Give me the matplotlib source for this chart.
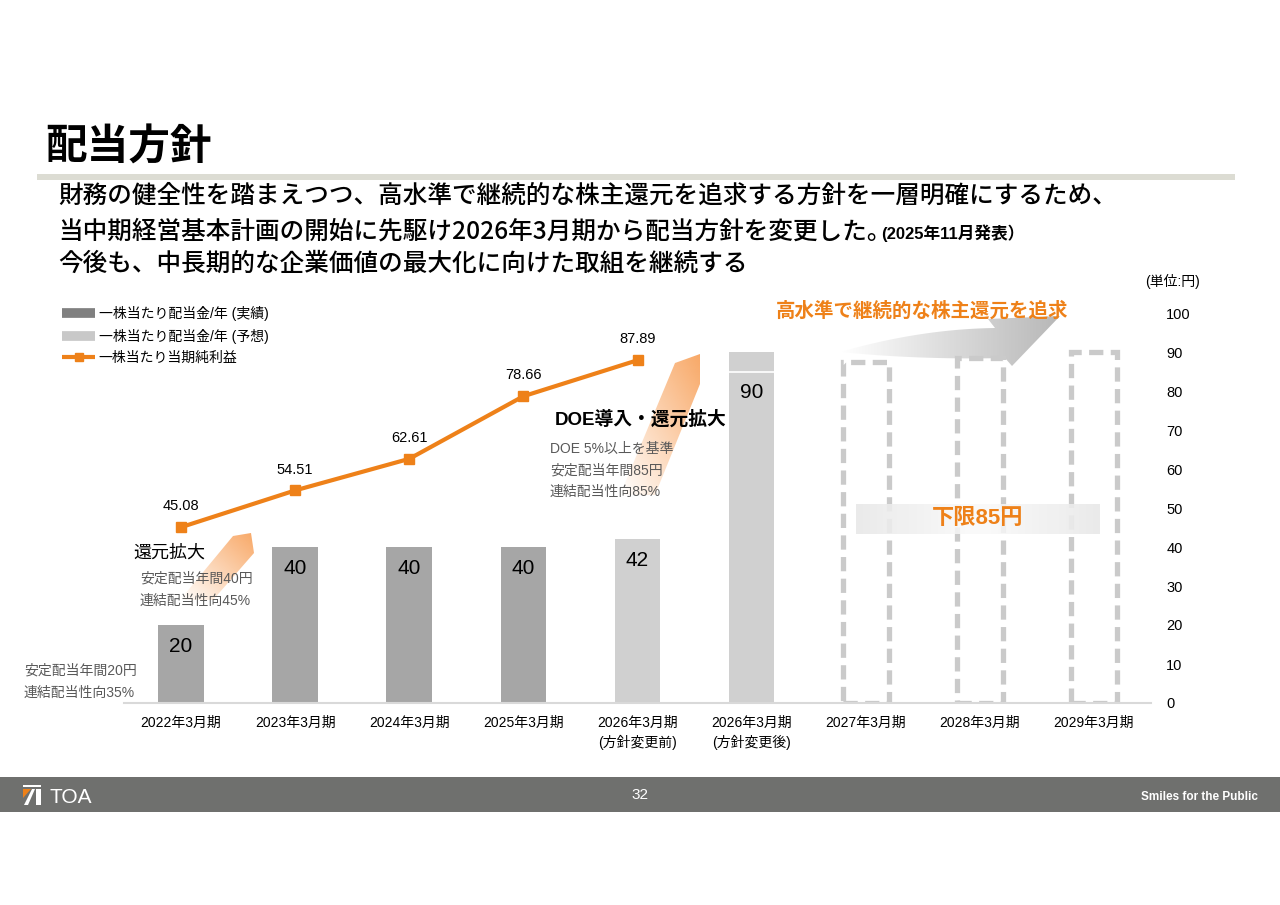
import numpy as np
import matplotlib
matplotlib.use('Agg')
import matplotlib.pyplot as plt
from matplotlib.patches import Polygon, Rectangle
from matplotlib.lines import Line2D
from matplotlib.colors import to_rgba

plt.rcParams['font.family'] = ['Liberation Sans', 'Noto Sans CJK JP']

W, H = 1280, 905

# --- data ---
categories = ['2022年3月期', '2023年3月期', '2024年3月期', '2025年3月期',
              '2026年3月期\n(方針変更前)', '2026年3月期\n(方針変更後)',
              '2027年3月期', '2028年3月期', '2029年3月期']
actual_idx = [0, 1, 2, 3]
actual_dps = [20, 40, 40, 40]
forecast_idx = [4, 5]
forecast_dps = [42, 90]
floor_dps = 85
eps_idx = [0, 1, 2, 3, 4]
eps = [45.08, 54.51, 62.61, 78.66, 87.89]
future_idx = [6, 7, 8]
future_outline = [87.5, 88.5, 90]
yticks = list(range(0, 101, 10))

legend_labels = ['一株当たり配当金/年 (実績)', '一株当たり配当金/年 (予想)', '一株当たり当期純利益']

ORANGE = '#EE8119'
DARK_BAR = '#a6a6a6'
LIGHT_BAR = '#d0d0d0'
NOTE_GRAY = '#595959'


def fx(x):
    return x / W


def fy(y):
    return 1 - y / H


def ftext(x, y, s, **kw):
    kw.setdefault('va', 'center')
    kw.setdefault('ha', 'left')
    return fig.text(fx(x), fy(y), s, **kw)


def qbez(p0, c, p1, n=30):
    t = np.linspace(0, 1, n)[:, None]
    p0, c, p1 = np.array(p0), np.array(c), np.array(p1)
    return (1 - t) ** 2 * p0 + 2 * (1 - t) * t * c + t ** 2 * p1


def gradient_fill(axo, verts, c_start, c_end, mode='x', zorder=1):
    verts = np.asarray(verts, float)
    poly = Polygon(verts, closed=True, facecolor='none', edgecolor='none')
    axo.add_patch(poly)
    x0, y0 = verts.min(axis=0)
    x1, y1 = verts.max(axis=0)
    u = np.linspace(0, 1, 200)
    U, V = np.meshgrid(u, u)
    if mode == 'diag':
        t = (U + (1 - V)) / 2
    elif mode == 'center':
        t = np.abs(2 * U - 1)
    else:
        t = U
    c0 = np.array(to_rgba(c_start))
    c1 = np.array(to_rgba(c_end))
    img = c0 + (c1 - c0) * t[..., None]
    im = axo.imshow(img, extent=(x0, x1, y1, y0), aspect='auto',
                    interpolation='bilinear', zorder=zorder)
    im.set_clip_path(poly)


fig = plt.figure(figsize=(12.8, 9.05), dpi=100)

# background decoration layer (pixel coordinates)
ov = fig.add_axes([0, 0, 1, 1], zorder=-1)
ov.set_autoscale_on(False)
ov.set_xlim(0, W)
ov.set_ylim(H, 0)
ov.axis('off')

ov.add_patch(Rectangle((37, 174), 1198, 6, color='#dcdcd3', lw=0))
ov.add_patch(Rectangle((0, 777), W, 35, color='#6f706e', lw=0))

# orange "expansion" arrows
gradient_fill(ov, [(233, 536), (251, 533), (254, 553), (213, 600), (180, 600)],
              (0.97, 0.6, 0.3, 0.0), (0.97, 0.6, 0.3, 0.85), mode='diag')
gradient_fill(ov, [(675, 363), (700, 354), (700, 384), (655, 495), (620, 495)],
              (0.97, 0.6, 0.3, 0.0), (0.97, 0.6, 0.3, 0.85), mode='diag')

# gray curved arrow
top_edge = qbez((840, 352), (920, 329), (995, 328))
bottom_edge = qbez((1005, 358), (920, 360), (840, 352))
arrow_verts = np.vstack([top_edge, [(988, 319), (1060, 316), (1012, 366)], bottom_edge])
gradient_fill(ov, arrow_verts, (0.72, 0.72, 0.72, 0.0), (0.72, 0.72, 0.72, 1.0))

# TOA logo
ov.add_patch(Rectangle((23, 785), 18, 2, color='white', lw=0))
ov.add_patch(Polygon([(23, 789), (31, 789), (23, 798)], color='#EE8119', lw=0))
ov.add_patch(Polygon([(24, 805), (32, 789), (35, 789), (28, 805)], color='white', lw=0))
ov.add_patch(Rectangle((36, 789), 5, 16, color='white', lw=0))

# --- main chart ---
ax = fig.add_axes([fx(124), fy(703), fx(1151) - fx(124), fy(313) - fy(703)])
ax.patch.set_alpha(0)
ax.set_xlim(-0.5, 8.5)
ax.set_ylim(0, 100)

ax.bar(actual_idx, actual_dps, width=0.4, color=DARK_BAR, zorder=2)
ax.bar(forecast_idx, forecast_dps, width=0.4, color=LIGHT_BAR, zorder=2)
ax.hlines(floor_dps, forecast_idx[-1] - 0.2, forecast_idx[-1] + 0.2,
          color='white', lw=1.2, zorder=3)
ax.bar(future_idx, future_outline, width=0.4, fill=False, edgecolor='#cacaca',
       lw=3.8, linestyle=(0, (2.7, 1.4)), zorder=2)

for i, v in zip(actual_idx + forecast_idx, actual_dps + forecast_dps):
    ax.text(i, min(v, floor_dps) - 5.4, str(v), ha='center', va='center',
            fontsize=15, color='black', zorder=4)

ax.plot(eps_idx, eps, color=ORANGE, lw=3, marker='s', ms=7, zorder=5)
for i, v in zip(eps_idx, eps):
    ax.annotate(f'{v:.2f}', (i, v), xytext=(0, 15), textcoords='offset points',
                ha='center', va='center', fontsize=10.5)

for s in ['top', 'left', 'right']:
    ax.spines[s].set_visible(False)
ax.spines['bottom'].set_color('#d9d9d9')
ax.spines['bottom'].set_linewidth(1.5)

ax.set_xticks(range(len(categories)))
ax.set_xticklabels(categories, fontsize=10, linespacing=1.45)
ax.tick_params(axis='x', length=0, pad=9)
ax.yaxis.tick_right()
ax.set_yticks(yticks)
ax.tick_params(axis='y', length=0, pad=11, labelsize=10.5)

# floor band on top of the dashed outlines
ov2 = fig.add_axes([0, 0, 1, 1], zorder=1)
ov2.set_autoscale_on(False)
ov2.set_xlim(0, W)
ov2.set_ylim(H, 0)
ov2.axis('off')
gradient_fill(ov2, [(856, 504), (1100, 504), (1100, 534), (856, 534)],
              (0.98, 0.98, 0.98, 0.85), (0.91, 0.91, 0.91, 0.9), mode='center')

handles = [Line2D([0], [0], color='#808080', lw=7, solid_capstyle='butt'),
           Line2D([0], [0], color='#c8c8c8', lw=7, solid_capstyle='butt'),
           Line2D([0], [0], color=ORANGE, lw=3, marker='s', ms=6, solid_capstyle='butt')]
fig.legend(handles, legend_labels, loc='upper left', bbox_to_anchor=(fx(62), fy(306)),
           frameon=False, fontsize=10, handlelength=2.4, handletextpad=0.25,
           labelspacing=0.55, borderaxespad=0, borderpad=0)

# --- texts ---
ftext(45, 149, '配当方針', fontsize=30, fontweight='bold')
sub_kw = dict(fontsize=17.7, fontweight='medium', family=['Noto Sans CJK JP'])
ftext(58, 196, '財務の健全性を踏まえつつ、高水準で継続的な株主還元を追求する方針を一層明確にするため、', **sub_kw)
line2 = ftext(58, 231, '当中期経営基本計画の開始に先駆け2026年3月期から配当方針を変更した。', **sub_kw)
ftext(58, 264, '今後も、中長期的な企業価値の最大化に向けた取組を継続する', **sub_kw)
fig.canvas.draw()
bb = line2.get_window_extent()
fig.text((bb.x1 - 10) / W, fy(233), '(2025年11月発表）', fontsize=12, fontweight='bold',
         va='center', ha='left')

ftext(1145, 281, '(単位:円)', fontsize=10)
ftext(776, 311, '高水準で継続的な株主還元を追求', fontsize=14, fontweight='bold', color=ORANGE)
ftext(978, 519, '下限85円', fontsize=16, fontweight='bold', color=ORANGE, ha='center')

ftext(555, 420, 'DOE導入・還元拡大', fontsize=13.5, fontweight='bold')
for k, s in enumerate(['DOE 5%以上を基準', '安定配当年間85円', '連結配当性向85%']):
    ftext(550, 449 + 21.5 * k, s, fontsize=10, color=NOTE_GRAY)

ftext(133, 553, '還元拡大', fontsize=13)
for k, s in enumerate(['安定配当年間40円', '連結配当性向45%']):
    ftext(140, 579 + 22 * k, s, fontsize=10, color=NOTE_GRAY)
for k, s in enumerate(['安定配当年間20円', '連結配当性向35%']):
    ftext(24, 671 + 21.5 * k, s, fontsize=10, color=NOTE_GRAY)

# footer
ftext(50, 797, 'TOA', fontsize=15, color='white')
ftext(640, 795, '32', fontsize=11, color='white', ha='center')
ftext(1258, 797, 'Smiles for the Public', fontsize=8.5, fontweight='bold', color='white', ha='right')

fig.savefig('out.png', dpi=100)
